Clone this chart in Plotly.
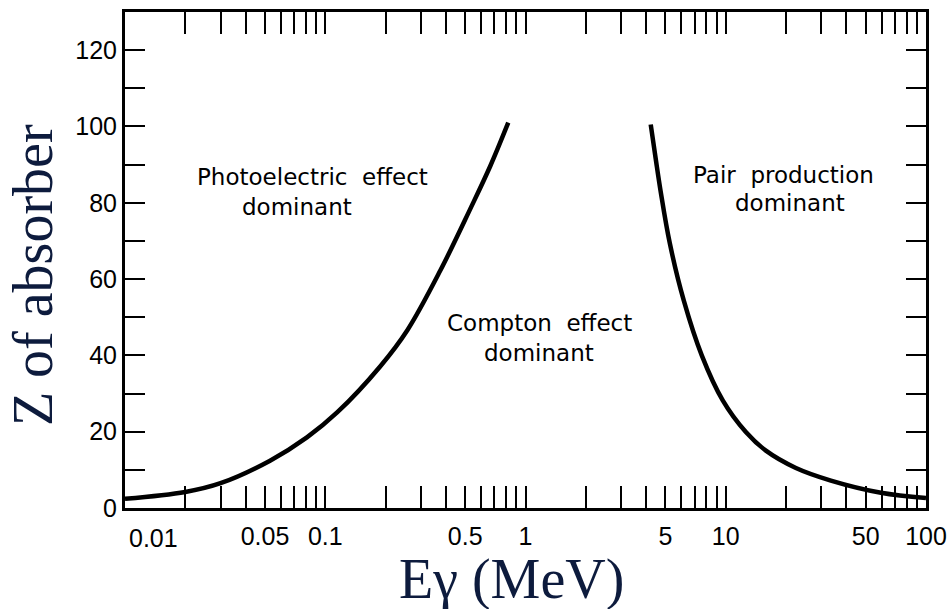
import plotly.graph_objects as go
import math

# Data
photo_E = [0.01, 0.02, 0.03, 0.053, 0.081, 0.115, 0.188, 0.257, 0.376, 0.53, 0.668, 0.82]
photo_Z = [2.4, 4.2, 6.5, 12.4, 18.5, 25.1, 37.1, 46.6, 62.3, 78.4, 89.7, 101.0]

pair_E = [4.22, 4.47, 4.73, 5.25, 6.17, 7.59, 9.66, 12.6, 15.8, 22.4, 33.5, 59.6, 100.0]
pair_Z = [100.5, 91.5, 83.0, 69.5, 54.4, 40.0, 28.2, 19.9, 15.1, 10.5, 7.2, 4.0, 2.6]

x_labelled = [0.05, 0.1, 0.5, 1, 5, 10, 50, 100]
x_label_text = ["0.05", "0.1", "0.5", "1", "5", "10", "50", "100"]
decades = [0.01, 0.1, 1, 10]
y_ticks = list(range(0, 130, 10))

x_tickvals = [round(d * m, 6) for d in decades for m in range(2, 11)]
x_ticktext = []
for v in x_tickvals:
    hit = [t for lv, t in zip(x_labelled, x_label_text) if abs(lv - v) < 1e-9]
    x_ticktext.append(hit[0] if hit else "")
y_ticktext = [str(v) if v % 20 == 0 else "" for v in y_ticks]

fig = go.Figure()
for xs, ys in [(photo_E, photo_Z), (pair_E, pair_Z)]:
    fig.add_trace(go.Scatter(x=xs, y=ys, mode="lines",
                             line=dict(color="black", width=4.5, shape="spline", smoothing=1.0),
                             showlegend=False, hoverinfo="skip"))

tick_font = dict(family="Liberation Sans", size=25, color="black")
fig.update_xaxes(type="log", range=[-2, 2], tickmode="array", tickvals=x_tickvals,
                 ticktext=x_ticktext, ticks="inside", ticklen=22, tickwidth=2,
                 tickcolor="black", showline=True, linewidth=3, linecolor="black",
                 mirror="allticks", showgrid=False, zeroline=False, tickfont=tick_font,
                 ticklabelstandoff=4, automargin=False)
fig.update_yaxes(range=[0, 130], tickmode="array", tickvals=y_ticks, ticktext=y_ticktext,
                 ticks="inside", ticklen=20, tickwidth=2, tickcolor="black",
                 showline=True, linewidth=3, linecolor="black", mirror="allticks",
                 showgrid=False, zeroline=False, tickfont=tick_font, automargin=False)

ann_font = dict(family="DejaVu Sans", size=23, color="black")
labels = [
    ("Photoelectric  effect", -1.065, 86.8),
    ("dominant", -1.14, 78.9),
    ("Compton  effect", 0.07, 48.5),
    ("dominant", 0.065, 40.6),
    ("Pair  production", 1.29, 87.3),
    ("dominant", 1.32, 79.9),
]
for txt, lx, ly in labels:
    fig.add_annotation(x=lx, y=ly, text=txt, showarrow=False, font=ann_font,
                       xanchor="center", yanchor="middle")

# 0.01 tick label (shifted right as in the reference)
fig.add_annotation(x=math.log10(0.01), y=0, yref="y", text="0.01", showarrow=False,
                   font=tick_font, xanchor="center", yanchor="top", xshift=28, yshift=-14)

title_font = dict(family="Liberation Serif", size=56, color="#0d1b3d")
fig.add_annotation(xref="paper", yref="paper", x=-0.1147, y=0.4698, text="Z of absorber",
                   textangle=-90, showarrow=False, font=title_font,
                   xanchor="center", yanchor="middle")
fig.add_annotation(xref="paper", yref="paper", x=0.4825, y=(508 - 553) / 496, text="Eγ (MeV)",
                   showarrow=False, font=title_font, xanchor="center", yanchor="top",
                   height=56, valign="bottom")

fig.update_layout(width=951, height=609, margin=dict(l=125, r=25, t=12, b=101),
                  plot_bgcolor="white", paper_bgcolor="white")

fig.write_html("out.html")
